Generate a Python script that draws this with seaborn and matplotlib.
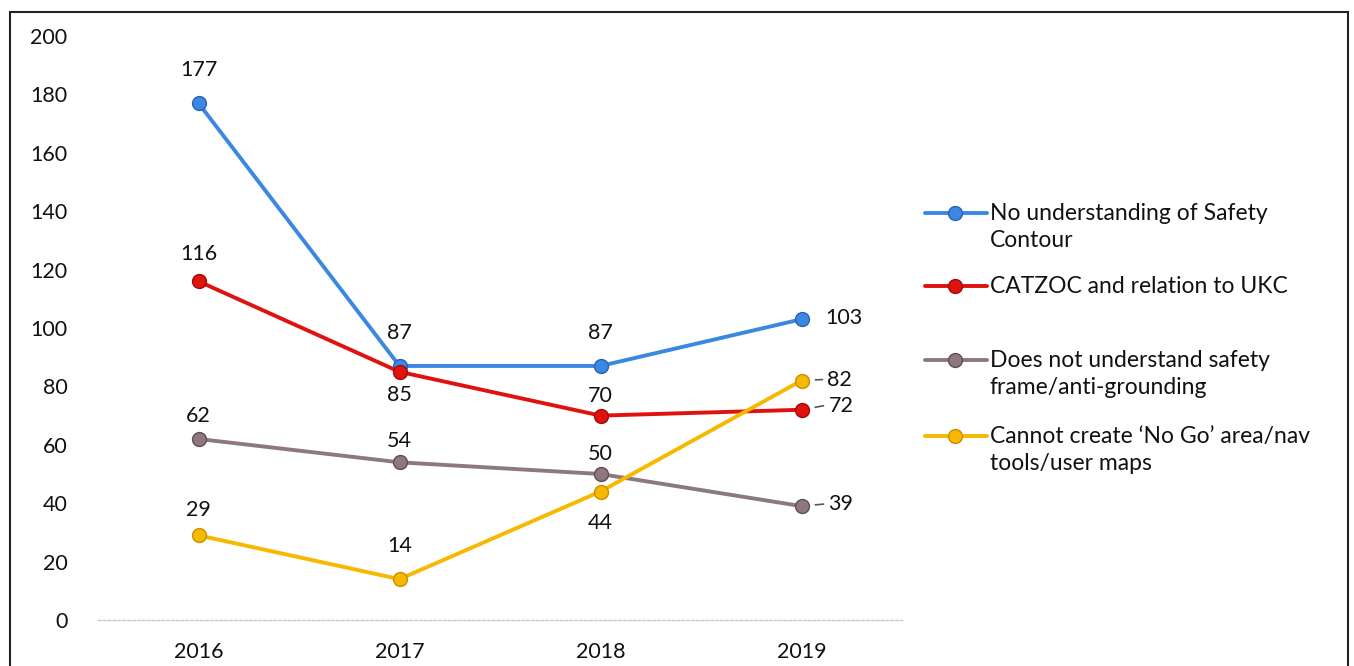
import matplotlib
matplotlib.use("Agg")
import matplotlib.pyplot as plt
from matplotlib.lines import Line2D
from matplotlib.patches import Rectangle
import seaborn as sns
import pandas as pd

years = ["2016", "2017", "2018", "2019"]
safety_contour = [177, 87, 87, 103]
catzoc_ukc = [116, 85, 70, 72]
safety_frame = [62, 54, 50, 39]
no_go_area = [29, 14, 44, 82]
series_names = [
    "No understanding of Safety\nContour",
    "CATZOC and relation to UKC",
    "Does not understand safety\nframe/anti-grounding",
    "Cannot create \u2018No Go\u2019 area/nav\ntools/user maps",
]
y_ticks = [0, 20, 40, 60, 80, 100, 120, 140, 160, 180, 200]

colors = ["#3a88e2", "#e0120f", "#8e7880", "#f7b800"]
edges = ["#2a62b0", "#a00c0a", "#5e4e55", "#c88f00"]
all_values = [safety_contour, catzoc_ukc, safety_frame, no_go_area]

# label placement: (dx_px, dy_px, ha, leader)
label_pos = [
    [(0, 33, "center", False), (0, 33, "center", False), (0, 33, "center", False), (24, 1, "left", False)],
    [(0, 27, "center", False), (0, -23, "center", False), (0, 20, "center", False), (27, 4, "left", True)],
    [(0, 23, "center", False), (0, 21, "center", False), (0, 20, "center", False), (27, 2, "left", True)],
    [(0, 25, "center", False), (0, 33, "center", False), (0, -31, "center", False), (26, 1, "left", True)],
]

sns.set_theme(style="white")
plt.rcParams["font.family"] = ["Lato", "DejaVu Sans"]

W, H = 1354, 666
fig = plt.figure(figsize=(W / 100, H / 100), dpi=100)
ax = fig.add_axes([98 / W, (H - 620) / H, (902 - 98) / W, (620 - 36) / H])

rows = []
for name, vals in zip(series_names, all_values):
    for i, v in enumerate(vals):
        rows.append({"idx": i, "value": v, "series": name})
df = pd.DataFrame(rows)

for k, name in enumerate(series_names):
    sub = df[df["series"] == name]
    sns.lineplot(data=sub, x="idx", y="value", ax=ax, color=colors[k], lw=2.8,
                 marker="o", markersize=10, markerfacecolor=colors[k],
                 markeredgecolor=edges[k], markeredgewidth=1.0, zorder=3 + k)

for k, vals in enumerate(all_values):
    for i, v in enumerate(vals):
        dx, dy, ha, leader = label_pos[k][i]
        ax.annotate(str(v), xy=(i, v), xytext=(dx, dy), textcoords="offset pixels",
                    ha=ha, va="center", fontsize=15.5, color="#111111", zorder=10)
        if leader:
            ax.annotate("", xy=(i, v), xytext=(dx - 5, dy), textcoords="offset pixels",
                        arrowprops=dict(arrowstyle="-", color="#555555", lw=1.2,
                                        shrinkA=0, shrinkB=10))

ax.set_xlim(-0.5, 3.5)
ax.set_ylim(0, 200)
ax.set_xticks(range(len(years)))
ax.set_xticklabels(years)
ax.set_yticks(y_ticks)
ax.set_xlabel("")
ax.set_ylabel("")
ax.tick_params(axis="both", length=0, labelsize=15.5, colors="#111111")
ax.tick_params(axis="y", pad=22)
ax.tick_params(axis="x", pad=16)
for s in ["top", "right", "left"]:
    ax.spines[s].set_visible(False)
ax.spines["bottom"].set_color("#c8c8c8")
ax.spines["bottom"].set_linestyle((0, (2, 1.5)))
ax.spines["bottom"].set_linewidth(1.0)
ax.grid(False)

# manual legend
leg_y = [213, 286, 360, 436]
for k, name in enumerate(series_names):
    yf = (H - leg_y[k]) / H
    fig.add_artist(Line2D([925 / W, 987 / W], [yf, yf], color=colors[k], lw=2.8,
                          transform=fig.transFigure))
    fig.add_artist(Line2D([955 / W], [yf], color=colors[k], marker="o", markersize=10,
                          markeredgecolor=edges[k], markeredgewidth=1.0,
                          transform=fig.transFigure))
    fig.text(990 / W, (H - leg_y[k] + 10) / H, name, ha="left", va="top",
             fontsize=16.5, color="#111111", linespacing=1.38,
             transform=fig.transFigure)

# outer frame
fig.add_artist(Rectangle((10 / W, -0.01), (1348 - 10) / W, (H - 12) / H + 0.01,
                         transform=fig.transFigure, fill=False, edgecolor="#222222", lw=1.5))

fig.savefig("out.png", dpi=100)
